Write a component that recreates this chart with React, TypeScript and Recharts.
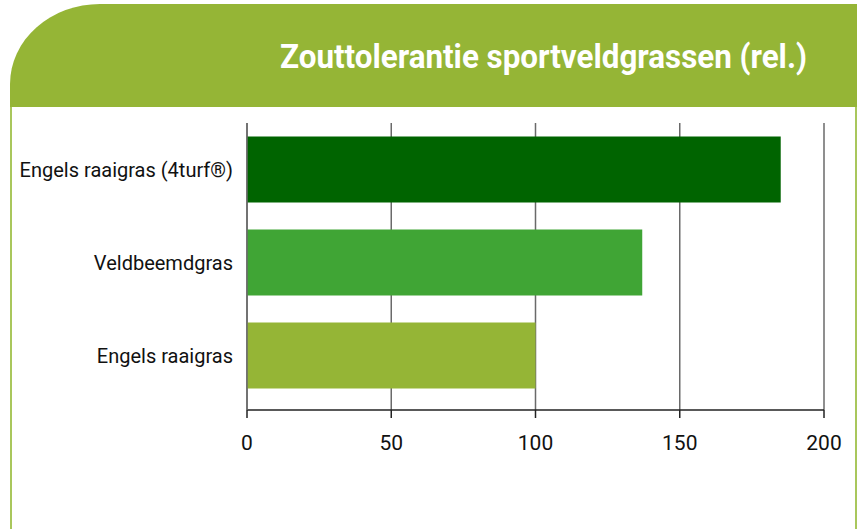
import React from 'react';
import { BarChart, Bar, XAxis, YAxis, CartesianGrid, Cell } from 'recharts';

const categories = ['Engels raaigras (4turf®)', 'Veldbeemdgras', 'Engels raaigras'];
const values = [185, 137, 100];
const barColors = ['#006400', '#40A535', '#95B536'];
const xTicks = [0, 50, 100, 150, 200];
const title = 'Zouttolerantie sportveldgrassen (rel.)';

const data = categories.map((name, i) => ({ name, value: values[i] }));

export default function App() {
  return (
    <div style={{ position: 'absolute', left: 0, top: 0, width: 859, height: 529, background: '#fff', overflow: 'hidden' }}>
      {/* white box with green border */}
      <div
        style={{
          position: 'absolute',
          left: 10,
          top: 100,
          width: 843,
          height: 460,
          borderLeft: '2px solid #A9C75C',
          borderRight: '2px solid #A9C75C',
          background: '#fff',
        }}
      />
      {/* header */}
      <div
        style={{
          position: 'absolute',
          left: 10,
          top: 4,
          width: 847,
          height: 103,
          background: '#95B536',
          borderTopLeftRadius: '90px 80px',
        }}
      />
      <svg style={{ position: 'absolute', left: 0, top: 0 }} width={859} height={110}>
        <text
          x={280}
          y={68}
          fill="#ffffff"
          fontFamily="Roboto, 'Noto Sans', sans-serif"
          fontWeight={700}
          fontSize={33}
          textLength={527}
          lengthAdjust="spacingAndGlyphs"
        >
          {title}
        </text>
      </svg>
      <div style={{ position: 'absolute', left: 0, top: 0 }}>
        <BarChart
          width={859}
          height={529}
          data={data}
          layout="vertical"
          margin={{ top: 123, right: 35, bottom: 89, left: 10 }}
          barCategoryGap="14.5%"
        >
          <CartesianGrid horizontal={false} vertical={true} stroke="#6a6a6a" strokeWidth={1.5} />
          <XAxis
            type="number"
            domain={[0, 200]}
            ticks={xTicks}
            axisLine={{ stroke: '#222', strokeWidth: 1.5 }}
            tickLine={{ stroke: '#222', strokeWidth: 1.5 }}
            tickSize={8}
            tickMargin={17}
            height={30}
            tick={{ fill: '#111', fontSize: 21, fontFamily: "Roboto, 'Noto Sans', sans-serif" }}
          />
          <YAxis
            type="category"
            dataKey="name"
            width={237}
            padding={{ top: 0, bottom: 8 }}
            axisLine={{ stroke: '#6a6a6a', strokeWidth: 1.5 }}
            tickLine={false}
            tickSize={0}
            tickMargin={14}
            tick={{ fill: '#111', fontSize: 20, fontFamily: "Roboto, 'Noto Sans', sans-serif" }}
          />
          <Bar dataKey="value" isAnimationActive={false}>
            {data.map((d, i) => (
              <Cell key={d.name} fill={barColors[i]} />
            ))}
          </Bar>
        </BarChart>
      </div>
    </div>
  );
}
